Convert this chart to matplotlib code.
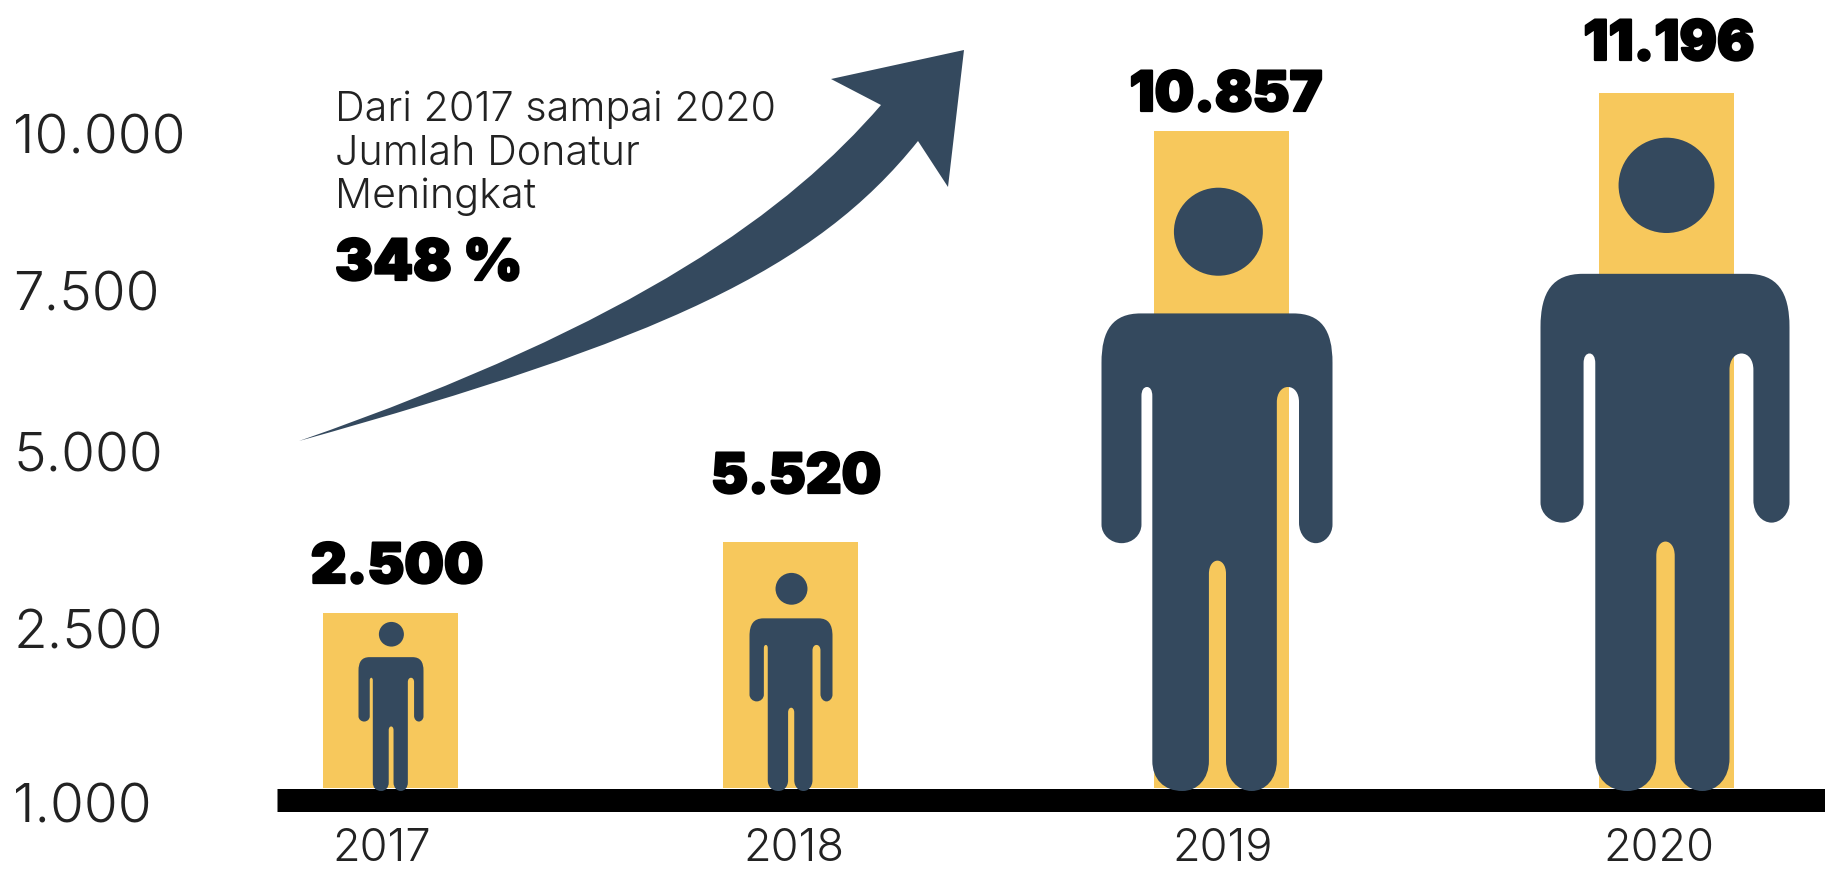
import matplotlib
matplotlib.use("Agg")
import matplotlib.pyplot as plt
import matplotlib.patches as patches
import matplotlib.patheffects as pe
from matplotlib.path import Path

# values shown on the chart
years = ["2017", "2018", "2019", "2020"]
donatur = ["2.500", "5.520", "10.857", "11.196"]
y_labels = ["1.000", "2.500", "5.000", "7.500", "10.000"]

# heights (its scale is not linear), px above the baseline
bar_heights = [175, 246, 657, 695]
y_label_heights = [-15, 159, 336, 497, 654]

W, H = 1825, 871
BASE = 788
LEFT = 277
YEL = "#F7C85C"
NAVY = "#34495E"
LIGHT = "Inter"
HEAVY = "Inter"

bar_x = [390, 790, 1221, 1666]
year_x = [382, 794, 1223, 1659]
label_x = [397, 796, 1226, 1669]
label_h = [220, 310, 692, 743]
person_x = [391, 791, 1217, 1665]
person_w = [65, 83, 231, 249]
person_h = [169, 218, 603, 653]


def draw_person(ax, cx, w, h, color):
    # outline in 0-1 units, 0,0 = top left of the figure box, head on top
    u0 = [
        (Path.MOVETO, (0.17, 0.208)),
        (Path.LINETO, (0.83, 0.208)),
        (Path.CURVE4, (0.95, 0.208)), (Path.CURVE4, (1.0, 0.235)), (Path.CURVE4, (1.0, 0.29)),
        (Path.LINETO, (1.0, 0.558)),
        (Path.CURVE4, (1.0, 0.575)), (Path.CURVE4, (0.965, 0.589)), (Path.CURVE4, (0.928, 0.589)),
        (Path.CURVE4, (0.89, 0.589)), (Path.CURVE4, (0.855, 0.575)), (Path.CURVE4, (0.855, 0.555)),
        (Path.LINETO, (0.855, 0.355)),
        (Path.CURVE4, (0.855, 0.34)), (Path.CURVE4, (0.835, 0.33)), (Path.CURVE4, (0.807, 0.33)),
        (Path.CURVE4, (0.78, 0.33)), (Path.CURVE4, (0.759, 0.34)), (Path.CURVE4, (0.759, 0.355)),
        (Path.LINETO, (0.759, 0.95)),
        (Path.CURVE4, (0.759, 0.98)), (Path.CURVE4, (0.71, 1.0)), (Path.CURVE4, (0.65, 1.0)),
        (Path.CURVE4, (0.59, 1.0)), (Path.CURVE4, (0.539, 0.98)), (Path.CURVE4, (0.539, 0.95)),
        (Path.LINETO, (0.539, 0.64)),
        (Path.CURVE4, (0.539, 0.625)), (Path.CURVE4, (0.52, 0.618)), (Path.CURVE4, (0.502, 0.618)),
        (Path.CURVE4, (0.484, 0.618)), (Path.CURVE4, (0.465, 0.625)), (Path.CURVE4, (0.465, 0.64)),
        (Path.LINETO, (0.465, 0.95)),
        (Path.CURVE4, (0.465, 0.98)), (Path.CURVE4, (0.415, 1.0)), (Path.CURVE4, (0.35, 1.0)),
        (Path.CURVE4, (0.27, 1.0)), (Path.CURVE4, (0.22, 0.98)), (Path.CURVE4, (0.22, 0.95)),
        (Path.LINETO, (0.22, 0.345)),
        (Path.CURVE4, (0.22, 0.335)), (Path.CURVE4, (0.21, 0.33)), (Path.CURVE4, (0.197, 0.33)),
        (Path.CURVE4, (0.183, 0.33)), (Path.CURVE4, (0.173, 0.335)), (Path.CURVE4, (0.173, 0.345)),
        (Path.LINETO, (0.173, 0.558)),
        (Path.CURVE4, (0.173, 0.575)), (Path.CURVE4, (0.135, 0.589)), (Path.CURVE4, (0.087, 0.589)),
        (Path.CURVE4, (0.04, 0.589)), (Path.CURVE4, (0.0, 0.575)), (Path.CURVE4, (0.0, 0.558)),
        (Path.LINETO, (0.0, 0.29)),
        (Path.CURVE4, (0.0, 0.235)), (Path.CURVE4, (0.05, 0.208)), (Path.CURVE4, (0.17, 0.208)),
        (Path.CLOSEPOLY, (0.17, 0.208)),
    ]
    x0 = cx - w / 2
    top = h - 3
    verts = [(x0 + p[0] * w, top - p[1] * h) for c, p in u0]
    codes = [c for c, p in u0]
    ax.add_patch(patches.PathPatch(Path(verts, codes), fc=color, ec="none", zorder=4))
    ax.add_patch(patches.Ellipse((x0 + 0.506 * w, top - 0.0725 * h), 0.385 * w, 0.146 * h,
                                 fc=color, ec="none", zorder=4))


fig = plt.figure(figsize=(W / 100, H / 100), dpi=100)
ax = fig.add_axes([LEFT / W, 0, 1 - LEFT / W, 1])
ax.set_xlim(LEFT, W)
ax.set_ylim(BASE - H, BASE)
for s in ax.spines.values():
    s.set_visible(False)

ax.bar(bar_x, bar_heights, width=135, color=YEL, zorder=2)
ax.axhline(-11.5, color="black", lw=23 * 0.72, solid_capstyle="butt", zorder=3)

thick = [pe.withStroke(linewidth=1.6, foreground="black")]
for i in range(len(years)):
    draw_person(ax, person_x[i], person_w[i], person_h[i], NAVY)
    ax.text(label_x[i], label_h[i], donatur[i], family=HEAVY, weight=900, fontsize=40,
            ha="center", va="center", color="black", zorder=5, path_effects=thick)

# axis labels
ax.set_xticks(year_x, years)
ax.set_yticks(y_label_heights, y_labels)
ax.tick_params(axis="both", length=0)
ax.tick_params(axis="x", pad=-31, labelsize=32.5, labelcolor="#222222")
ax.tick_params(axis="y", pad=(LEFT - 13) * 0.72, labelsize=39.5, labelcolor="#222222")
for t in ax.get_xticklabels() + ax.get_yticklabels():
    t.set_family(LIGHT)
    t.set_weight(300)
for t in ax.get_yticklabels():
    t.set_ha("left")

# rising arrow
arrow_verts = [(299, 347), (640, 466), (790, 578), (881, 683),
               (831, 709), (964, 738), (948, 601), (918, 647),
               (815, 518), (660, 448), (299, 347), (299, 347)]
arrow_codes = [Path.MOVETO, Path.CURVE4, Path.CURVE4, Path.CURVE4,
               Path.LINETO, Path.LINETO, Path.LINETO, Path.LINETO,
               Path.CURVE4, Path.CURVE4, Path.CURVE4, Path.CLOSEPOLY]
ax.add_patch(patches.PathPatch(Path(arrow_verts, arrow_codes), fc=NAVY, ec="none", zorder=4))

# note
note_x = 335
for txt, yy in zip(["Dari 2017 sampai 2020", "Jumlah Donatur", "Meningkat"], [678, 634, 591]):
    ax.text(note_x, yy, txt, family=LIGHT, weight=300, fontsize=29.7, ha="left", va="center", color="#222222")
ax.text(note_x, 523, "348 %", family=HEAVY, weight=900, fontsize=41, ha="left", va="center", color="black",
        path_effects=thick)

fig.savefig("out.png", dpi=100)
